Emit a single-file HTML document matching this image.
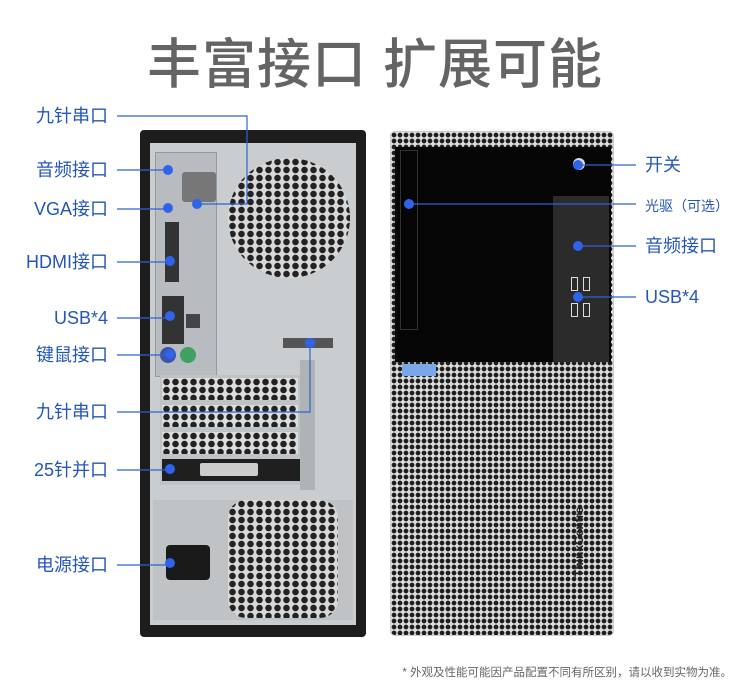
<!DOCTYPE html>
<html><head><meta charset="utf-8"><style>
*{margin:0;padding:0;box-sizing:border-box}
body{width:750px;height:697px;background:#fff;position:relative;overflow:hidden;font-family:"Liberation Sans","Noto Sans CJK SC",sans-serif}
.t{position:absolute;left:0;width:750px;top:20px;text-align:center;font-size:54px;color:#646464;font-weight:500;letter-spacing:1px}
.l{position:absolute;font-size:18px;color:#2457b8;white-space:nowrap;line-height:20px}
.r{text-align:right;width:105px;left:3px}
.ab{position:absolute}
.mesh{background-color:#dcdcdc;background-image:radial-gradient(circle,#1e1e1e 2.1px,transparent 2.6px);background-size:6px 6px}
.mesh2{background-color:#d8d8d8;background-image:radial-gradient(circle,#222 3px,transparent 3.5px);background-size:9px 8px}
.foot{position:absolute;right:18px;top:664px;font-size:11.5px;color:#666}
</style></head><body>
<div class="t">丰富接口 扩展可能</div>

<!-- left tower -->
<div class="ab" style="left:140px;top:130px;width:226px;height:507px;background:#1d1d1d;border-radius:4px"></div>
<div class="ab" style="left:150px;top:143px;width:206px;height:482px;background:#c9cdd0"></div>
<div class="ab" style="left:155px;top:152px;width:62px;height:225px;background:#b8bcc0;border:1px solid #999"></div>
<div class="ab mesh2" style="left:228px;top:158px;width:122px;height:120px;border-radius:50%"></div>
<div class="ab" style="left:160px;top:375px;width:150px;height:110px;background:#bfc3c6"></div>
<div class="ab mesh2" style="left:162px;top:378px;width:136px;height:22px;background-color:#ddd"></div>
<div class="ab mesh2" style="left:162px;top:405px;width:136px;height:22px;background-color:#ddd"></div>
<div class="ab mesh2" style="left:162px;top:432px;width:136px;height:22px;background-color:#ddd"></div>
<div class="ab" style="left:162px;top:459px;width:138px;height:22px;background:#1f1f1f"></div>
<div class="ab" style="left:200px;top:463px;width:58px;height:13px;background:#ccc;border-radius:2px"></div>
<div class="ab" style="left:300px;top:360px;width:15px;height:130px;background:#aeb3b6"></div>
<div class="ab" style="left:153px;top:500px;width:200px;height:120px;background:#bfc3c6"></div>
<div class="ab mesh2" style="left:228px;top:500px;width:110px;height:118px;border-radius:18px"></div>
<div class="ab" style="left:166px;top:545px;width:44px;height:35px;background:#1a1a1a;border-radius:4px"></div>
<div class="ab" style="left:182px;top:172px;width:34px;height:30px;background:#777;border-radius:3px"></div>
<div class="ab" style="left:165px;top:222px;width:14px;height:60px;background:#333"></div>
<div class="ab" style="left:162px;top:296px;width:22px;height:48px;background:#333"></div>
<div class="ab" style="left:186px;top:314px;width:14px;height:14px;background:#444"></div>
<div class="ab" style="left:160px;top:347px;width:16px;height:16px;border-radius:50%;background:#3c54a8"></div>
<div class="ab" style="left:180px;top:347px;width:16px;height:16px;border-radius:50%;background:#3fa060"></div>
<div class="ab" style="left:283px;top:338px;width:50px;height:10px;background:#555"></div>

<!-- right tower -->
<div class="ab mesh" style="left:390px;top:131px;width:224px;height:505px;border-radius:5px;border:1px solid #ccc"></div>
<div class="ab" style="left:395px;top:147px;width:216px;height:215px;background:#050505"></div>
<div class="ab" style="left:553px;top:196px;width:56px;height:166px;background:#2b2b2b"></div>
<div class="ab" style="left:400px;top:150px;width:18px;height:180px;border:1px solid #333"></div>
<div class="ab" style="left:571px;top:277px;width:7px;height:14px;border:1px solid #ddd"></div>
<div class="ab" style="left:583px;top:277px;width:7px;height:14px;border:1px solid #ddd"></div>
<div class="ab" style="left:571px;top:303px;width:7px;height:14px;border:1px solid #ddd"></div>
<div class="ab" style="left:583px;top:303px;width:7px;height:14px;border:1px solid #ddd"></div>
<div class="ab" style="left:573px;top:158px;width:12px;height:12px;border-radius:50%;background:#ddd"></div>
<div class="ab" style="left:402px;top:364px;width:34px;height:12px;background:#7aa7e8"></div>
<div class="ab" style="left:572px;top:492px;width:18px;height:85px;font-size:12px;color:#222;font-weight:bold;writing-mode:vertical-rl;transform:rotate(180deg)">ThinkCentre</div>

<svg class="ab" style="left:0;top:0" width="750" height="697">
<g stroke="#2f63cf" stroke-width="1.2" fill="none">
<path d="M117 116H247V204H197"/>
<path d="M117 170H168"/><path d="M117 209H168"/><path d="M117 262H170"/>
<path d="M117 318H170"/><path d="M117 355H170"/>
<path d="M117 412H310V343"/><path d="M117 470H170"/><path d="M117 565H170"/>
<path d="M578 165H636"/><path d="M409 204H636"/><path d="M578 246H636"/><path d="M578 297H636"/>
</g>
<g fill="#2f63ec">
<circle cx="168" cy="170" r="5"/><circle cx="168" cy="208" r="5"/><circle cx="197" cy="204" r="5"/>
<circle cx="170" cy="261" r="5"/><circle cx="170" cy="316" r="5"/><circle cx="170" cy="354" r="5"/>
<circle cx="310" cy="343" r="5"/><circle cx="170" cy="469" r="5"/><circle cx="170" cy="563" r="5"/>
<circle cx="578" cy="165" r="5"/><circle cx="409" cy="204" r="5"/><circle cx="578" cy="246" r="5"/><circle cx="578" cy="297" r="5"/>
</g>
</svg>

<div class="l r" style="top:106px">九针串口</div>
<div class="l r" style="top:160px">音频接口</div>
<div class="l r" style="top:199px">VGA接口</div>
<div class="l r" style="top:252px">HDMI接口</div>
<div class="l r" style="top:308px">USB*4</div>
<div class="l r" style="top:345px">键鼠接口</div>
<div class="l r" style="top:402px">九针串口</div>
<div class="l r" style="top:460px">25针并口</div>
<div class="l r" style="top:555px">电源接口</div>
<div class="l" style="left:645px;top:155px">开关</div>
<div class="l" style="left:645px;top:196px;font-size:14px">光驱（可选）</div>
<div class="l" style="left:645px;top:236px">音频接口</div>
<div class="l" style="left:645px;top:287px">USB*4</div>
<div class="foot">* 外观及性能可能因产品配置不同有所区别，请以收到实物为准。</div>
</body></html>
